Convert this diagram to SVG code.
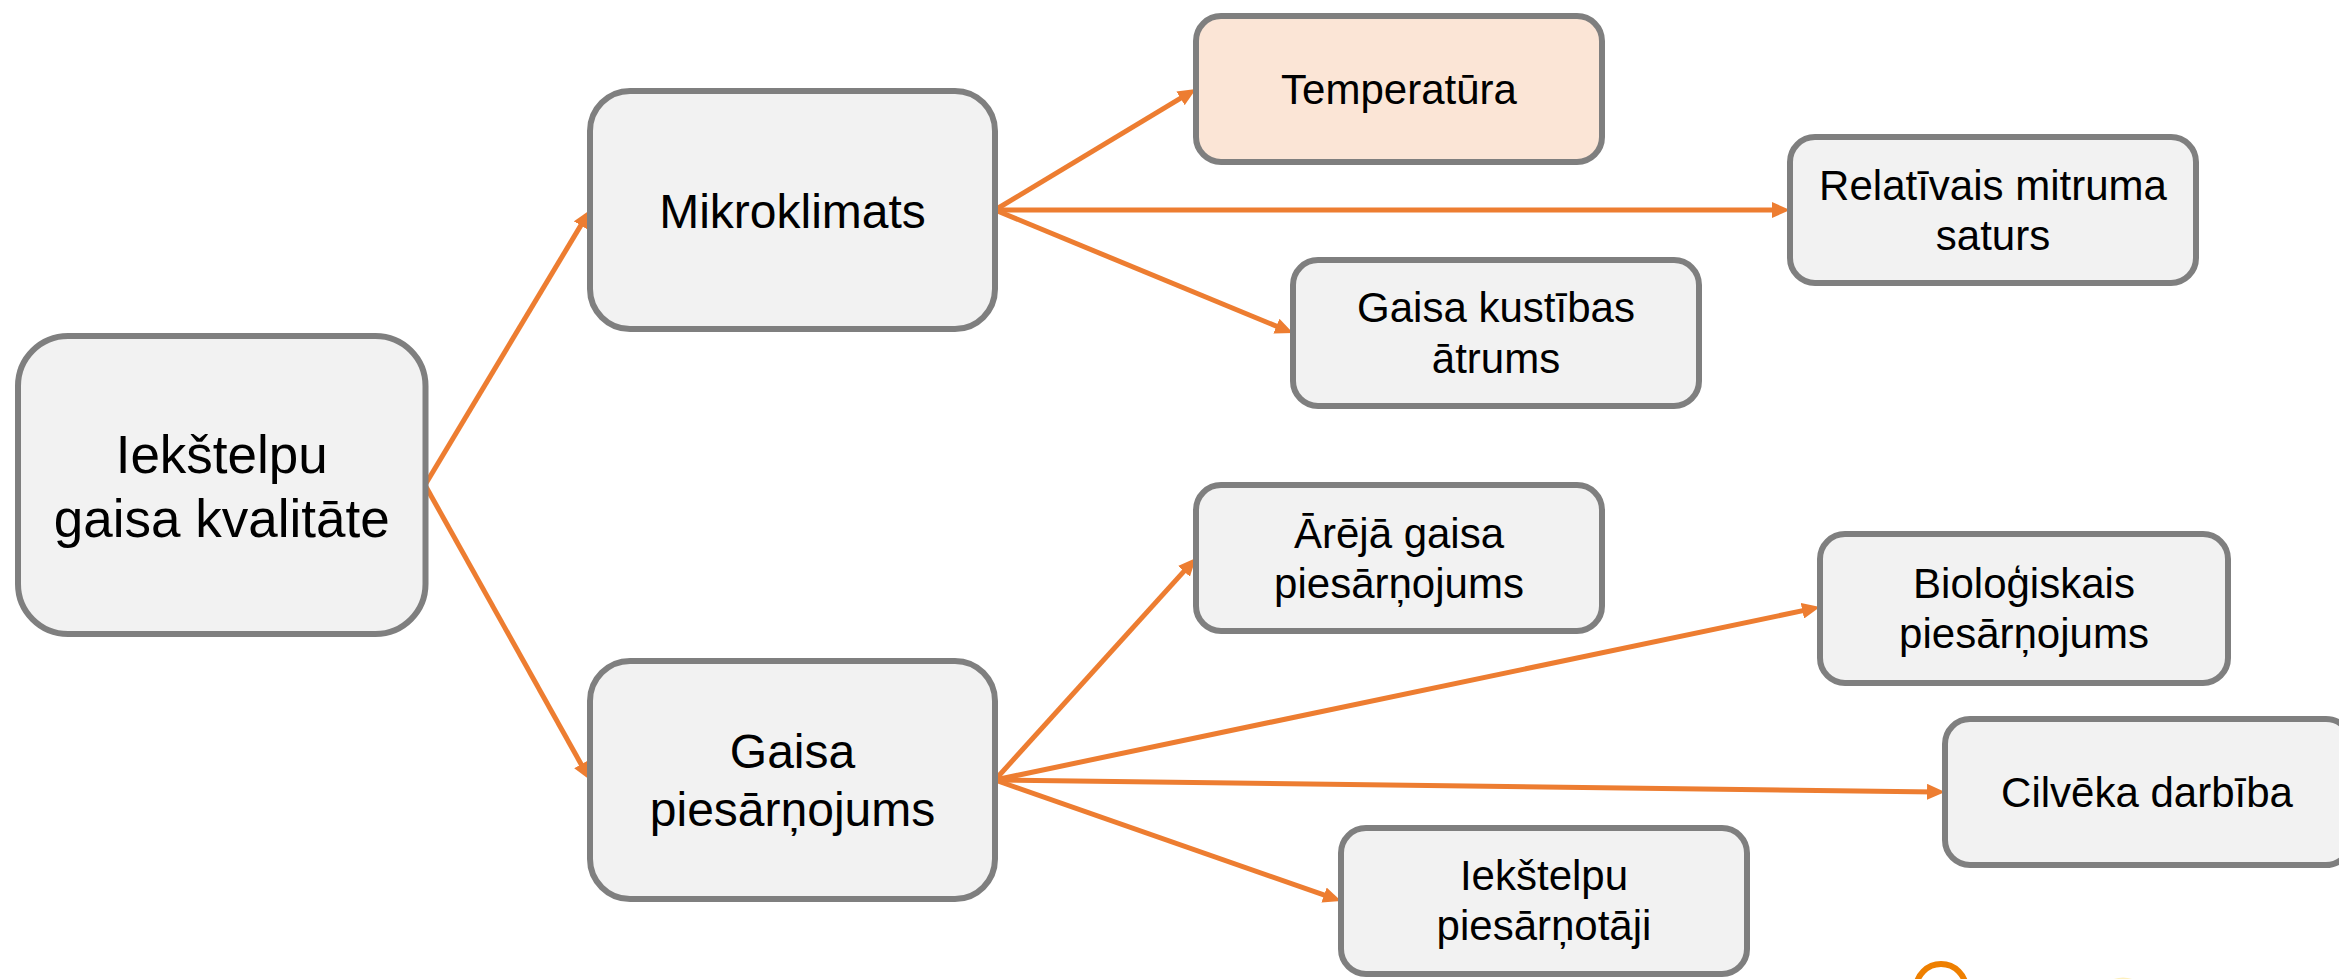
<svg xmlns="http://www.w3.org/2000/svg" width="2339" height="979" viewBox="0 0 2339 979">
<style>
.box{fill:#F2F2F2;stroke:#7F7F7F;stroke-width:6}
.hot{fill:#FBE5D6}
text{font-family:"Liberation Sans",Arial,sans-serif;fill:#000;text-anchor:middle}
.t1{font-size:53px}
.t2{font-size:48px}
.t3{font-size:42px}
.conn{stroke:#ED7D31;stroke-width:5;fill:none}
</style>
<defs>
<marker id="ah" markerUnits="userSpaceOnUse" markerWidth="18" markerHeight="16" refX="8" refY="8" orient="auto">
<path d="M0,0 L18,8 L0,16 z" fill="#ED7D31"/>
</marker>
</defs>
<rect width="2339" height="979" fill="#FFFFFF"/>
<g id="connectors">
<line class="conn" x1="425" y1="485" x2="584.9" y2="218.6" marker-end="url(#ah)"/>
<line class="conn" x1="425" y1="485" x2="585.1" y2="771.3" marker-end="url(#ah)"/>
<line class="conn" x1="995" y1="210" x2="1187.4" y2="94.2" marker-end="url(#ah)"/>
<line class="conn" x1="995" y1="210" x2="1780" y2="210" marker-end="url(#ah)"/>
<line class="conn" x1="995" y1="210" x2="1283.8" y2="329.2" marker-end="url(#ah)"/>
<line class="conn" x1="995" y1="780" x2="1189.3" y2="565.4" marker-end="url(#ah)"/>
<line class="conn" x1="995" y1="780" x2="1810.2" y2="609.1" marker-end="url(#ah)"/>
<line class="conn" x1="995" y1="780" x2="1935" y2="791.9" marker-end="url(#ah)"/>
<line class="conn" x1="995" y1="780" x2="1331.6" y2="897.7" marker-end="url(#ah)"/>
</g>
<g id="root">
<rect class="box" x="18" y="336" width="407.5" height="298" rx="50" ry="50"/>
<text class="t1" x="221.75" y="473">Iekštelpu</text>
<text class="t1" x="221.75" y="537">gaisa kvalitāte</text>
</g>
<g id="mikroklimats">
<rect class="box" x="590" y="91" width="405" height="238" rx="40" ry="40"/>
<text class="t2" x="792.5" y="228">Mikroklimats</text>
</g>
<g id="gaisa-piesarnojums">
<rect class="box" x="590" y="661" width="405" height="238" rx="40" ry="40"/>
<text class="t2" x="792.5" y="768">Gaisa</text>
<text class="t2" x="792.5" y="826">piesārņojums</text>
</g>
<g id="temperatura">
<rect class="box hot" x="1196" y="16" width="406" height="146" rx="25" ry="25"/>
<text class="t3" x="1399" y="104">Temperatūra</text>
</g>
<g id="relativais">
<rect class="box" x="1790" y="137" width="406" height="146" rx="25" ry="25"/>
<text class="t3" x="1993" y="200">Relatīvais mitruma</text>
<text class="t3" x="1993" y="250">saturs</text>
</g>
<g id="kustibas">
<rect class="box" x="1293" y="260" width="406" height="146" rx="25" ry="25"/>
<text class="t3" x="1496" y="322">Gaisa kustības</text>
<text class="t3" x="1496" y="373">ātrums</text>
</g>
<g id="areja">
<rect class="box" x="1196" y="485" width="406" height="146" rx="25" ry="25"/>
<text class="t3" x="1399" y="548">Ārējā gaisa</text>
<text class="t3" x="1399" y="598">piesārņojums</text>
</g>
<g id="biologiskais">
<rect class="box" x="1820" y="534" width="408" height="149" rx="25" ry="25"/>
<text class="t3" x="2024" y="598">Bioloģiskais</text>
<text class="t3" x="2024" y="648">piesārņojums</text>
</g>
<g id="cilveka">
<rect class="box" x="1945" y="719" width="406" height="146" rx="25" ry="25"/>
<text class="t3" x="2147" y="807">Cilvēka darbība</text>
</g>
<g id="iekstelpu-piesarnotaji">
<rect class="box" x="1341" y="828" width="406" height="146" rx="25" ry="25"/>
<text class="t3" x="1544" y="890">Iekštelpu</text>
<text class="t3" x="1544" y="940">piesārņotāji</text>
</g>
<g id="logo-fragment">
<circle cx="1941" cy="989" r="25" fill="none" stroke="#EE7F00" stroke-width="6"/>
<path d="M2114,980 Q2123,977 2132,980" fill="none" stroke="#FDF0C0" stroke-width="2"/>
</g>
</svg>
